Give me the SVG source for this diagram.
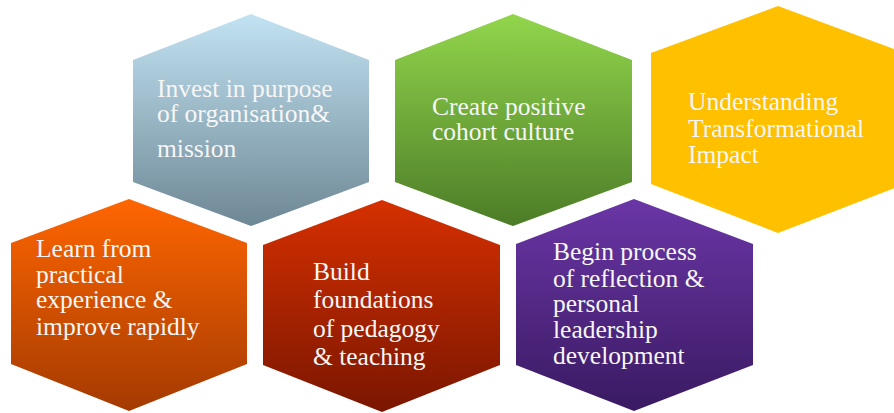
<svg xmlns="http://www.w3.org/2000/svg" width="894" height="413" viewBox="0 0 894 413">
<defs>
<linearGradient id="gBlue" x1="0" y1="0" x2="0" y2="1"><stop offset="0" stop-color="#c2e3f3"/><stop offset="1" stop-color="#6e8794"/></linearGradient>
<linearGradient id="gGreen" x1="0" y1="0" x2="0" y2="1"><stop offset="0" stop-color="#92d64c"/><stop offset="1" stop-color="#4c7c27"/></linearGradient>
<linearGradient id="gOrange" x1="0" y1="0" x2="0" y2="1"><stop offset="0" stop-color="#ff6600"/><stop offset="1" stop-color="#a43a00"/></linearGradient>
<linearGradient id="gRed" x1="0" y1="0" x2="0" y2="1"><stop offset="0" stop-color="#d63000"/><stop offset="1" stop-color="#7a1600"/></linearGradient>
<linearGradient id="gPurple" x1="0" y1="0" x2="0" y2="1"><stop offset="0" stop-color="#6a36a6"/><stop offset="1" stop-color="#3a1a62"/></linearGradient>
</defs>
<style>
text{font-family:"Liberation Serif","Times New Roman",serif;font-size:25.5px;fill:#f6f6f6;}
</style>
<rect width="894" height="413" fill="#ffffff"/>
<g id="node-invest">
<polygon points="251,14 369,60 369,182 251,226 133,182 133,60" fill="url(#gBlue)"/>
<text x="157" y="97">Invest in purpose</text>
<text x="157" y="122">of organisation&amp;</text>
<text x="157" y="157">mission</text>
</g>
<g id="node-cohort">
<polygon points="513,14 632,60 632,182 513,226 395,182 395,60" fill="url(#gGreen)"/>
<text x="432" y="115">Create positive</text>
<text x="432" y="140">cohort culture</text>
</g>
<g id="node-impact">
<polygon points="778,6 905,53 905,184 778,233 651,184 651,53" fill="#ffc000"/>
<text x="688" y="110">Understanding</text>
<text x="688" y="137">Transformational</text>
<text x="688" y="163">Impact</text>
</g>
<g id="node-learn">
<polygon points="129,199 247,243 247,364 129,411 11,364 11,243" fill="url(#gOrange)"/>
<text x="36" y="257">Learn from</text>
<text x="36" y="283">practical</text>
<text x="36" y="308">experience &amp;</text>
<text x="36" y="335">improve rapidly</text>
</g>
<g id="node-build">
<polygon points="382,200 500,245 500,365 382,412 263,365 263,245" fill="url(#gRed)"/>
<text x="313" y="280">Build</text>
<text x="313" y="308">foundations</text>
<text x="313" y="337">of pedagogy</text>
<text x="313" y="365">&amp; teaching</text>
</g>
<g id="node-reflect">
<polygon points="634,199 753,244 753,365 634,411 516,365 516,244" fill="url(#gPurple)"/>
<text x="553" y="260">Begin process</text>
<text x="553" y="287">of reflection &amp;</text>
<text x="553" y="312">personal</text>
<text x="553" y="338">leadership</text>
<text x="553" y="364">development</text>
</g>
<g id="connectors"></g>
</svg>
